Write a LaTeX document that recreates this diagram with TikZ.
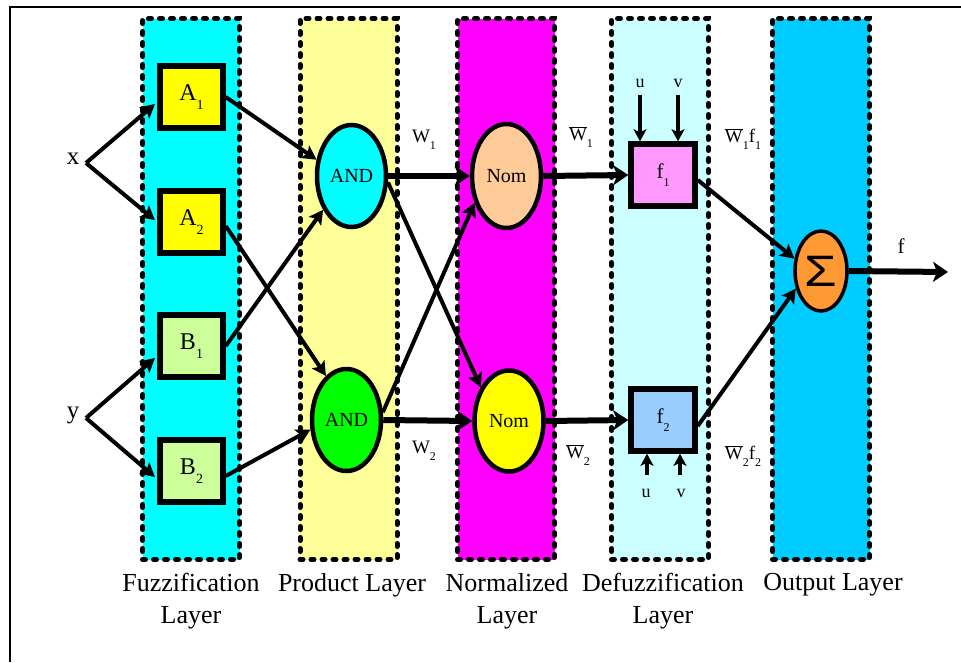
\documentclass[tikz,border=0pt]{standalone}
\usepackage{fontspec}
\setmainfont{Liberation Serif}
\newfontfamily\sigmafont{Liberation Sans}
\usetikzlibrary{shapes.geometric,arrows.meta}
\newcommand{\lsub}[1]{\raisebox{-0.38em}{\fontsize{14}{14}\selectfont #1}}
\newcommand{\wsub}[1]{\raisebox{-0.35em}{\fontsize{12}{12}\selectfont #1}}
\newcommand{\wbar}{$\overline{\hbox{W}}$}
\definecolor{cfuzz}{RGB}{0,255,255}
\definecolor{cprod}{RGB}{255,255,153}
\definecolor{cnorm}{RGB}{255,0,255}
\definecolor{cdefz}{RGB}{204,255,255}
\definecolor{cout}{RGB}{0,204,255}
\definecolor{cA}{RGB}{255,255,0}
\definecolor{cB}{RGB}{204,255,153}
\definecolor{cand1}{RGB}{0,255,255}
\definecolor{cand2}{RGB}{0,255,0}
\definecolor{cnom1}{RGB}{255,204,153}
\definecolor{cnom2}{RGB}{255,255,0}
\definecolor{cf1}{RGB}{255,153,255}
\definecolor{cf2}{RGB}{153,204,255}
\definecolor{csig}{RGB}{255,153,51}
\begin{document}
\begin{tikzpicture}[x=1pt,y=-1pt,
  layerbox/.style={draw=black, line width=5pt, line cap=round, dash pattern=on 3pt off 8pt, minimum width=97pt, minimum height=541pt, inner sep=0pt},
  mfbox/.style={draw=black, line width=5.5pt, minimum width=63pt, minimum height=62pt, inner sep=0pt, font=\fontsize{24}{24}\selectfont},
  opnode/.style={ellipse, draw=black, line width=4.5pt, minimum width=69pt, minimum height=102pt, inner sep=0pt, font=\fontsize{20}{20}\selectfont},
  fbox/.style={draw=black, line width=5.5pt, minimum width=64pt, minimum height=62pt, inner sep=0pt, font=\fontsize{21}{21}\selectfont},
  arr/.style={line width=4pt, -{Stealth[length=14pt,width=15pt,inset=3pt]}},
  harr/.style={line width=6pt, -{Stealth[length=15pt,width=20pt,inset=4pt]}},
  uvarr/.style={line width=4.5pt, -{Stealth[length=12pt,width=13pt,inset=3pt]}},
  title/.style={font=\fontsize{26}{32}\selectfont, align=center},
  wlab/.style={font=\fontsize{19}{19}\selectfont, inner sep=0pt},
  uvlab/.style={font=\fontsize{18}{18}\selectfont, inner sep=0pt}
]
\useasboundingbox (0,0) rectangle (961,662);
\draw[line width=1.5pt] (10,662) -- (10,7) -- (961,7);

% layers
\node[layerbox, fill=cfuzz] (Lfuzz) at (191,289) {};
\node[layerbox, fill=cprod] (Lprod) at (348.5,289) {};
\node[layerbox, fill=cnorm] (Lnorm) at (506,289) {};
\node[layerbox, fill=cdefz] (Ldefz) at (660,289) {};
\node[layerbox, fill=cout] (Lout) at (821,289) {};

\node[title] (Tfuzz) at (191,601) {Fuzzification\\Layer};
\node[title] (Tprod) at (352,585) {Product Layer};
\node[title] (Tnorm) at (507,601) {Normalized\\Layer};
\node[title] (Tdefz) at (663,601) {Defuzzification\\Layer};
\node[title] (Tout) at (833,585) {Output Layer};

% inputs
\node[font=\fontsize{25}{25}\selectfont, inner sep=0pt] (xl) at (73,159) {x};
\node[font=\fontsize{25}{25}\selectfont, inner sep=0pt] (yl) at (73,415) {y};
\coordinate (xp) at (86,163);
\coordinate (yp) at (86,418);

% membership nodes
\node[mfbox, fill=cA] (A1) at (191.5,97) {A\lsub{1}};
\node[mfbox, fill=cA] (A2) at (191.5,222) {A\lsub{2}};
\node[mfbox, fill=cB] (B1) at (191.5,346) {B\lsub{1}};
\node[mfbox, fill=cB] (B2) at (191.5,471) {B\lsub{2}};

% product nodes
\node[opnode, fill=cand1] (AND1) at (351.5,176) {AND};
\node[opnode, fill=cand2] (AND2) at (346.5,420) {AND};

% normalized nodes
\node[opnode, fill=cnom1, minimum height=104pt] (Nom1) at (506.5,176) {Nom};
\node[opnode, fill=cnom2, minimum height=101pt] (Nom2) at (509,421) {Nom};

% defuzz nodes
\node[fbox, fill=cf1] (F1) at (663,175) {f\wsub{1}};
\node[fbox, fill=cf2] (F2) at (663,420) {f\wsub{2}};

% output node
\node[ellipse, draw=black, line width=3.5pt, fill=csig, minimum width=52pt, minimum height=80pt, inner sep=0pt] (Sig) at (821,271) {\sigmafont\fontsize{44}{44}\selectfont\scalebox{1.2}[1]{Σ}};
\coordinate (fout) at (948,272);
\node[font=\fontsize{21}{21}\selectfont, inner sep=0pt] (fl) at (901,246) {f};

% connectors: inputs
\draw[arr, shorten >=3pt] (xp) -- ([yshift=-5pt]A1.west);
\draw[arr, shorten >=3pt] (xp) -- (A2.west);
\draw[arr, shorten >=3pt] (yp) -- ([yshift=-10pt]B1.west);
\draw[arr, shorten >=3pt] (yp) -- ([yshift=-8pt]B2.west);

% membership -> product
\draw[arr] (A1.east) -- (AND1.155);
\draw[arr] ([yshift=-4pt]A2.east) -- (AND2.115);
\draw[arr] (B1.east) -- (AND1.230);
\draw[arr] ([yshift=-5pt]B2.east) -- (AND2.195);

% product -> normalized
\draw[harr] (AND1.east) -- (Nom1.west);
\draw[harr] (AND2.east) -- (Nom2.west);
\draw[arr] (AND1.-10) -- (Nom2.130);
\draw[arr] (AND2.12) -- (Nom1.220);

% normalized -> defuzz
\draw[harr] (Nom1.east) -- (F1.west);
\draw[harr] (Nom2.east) -- (F2.west);

% u v inputs
\coordinate (u1) at (640,95);
\coordinate (v1) at (678,95);
\coordinate (u2) at (647,475);
\coordinate (v2) at (680,475);
\node[uvlab] (u1l) at (640,83) {u};
\node[uvlab] (v1l) at (678,83) {v};
\node[uvlab] (u2l) at (646,493) {u};
\node[uvlab] (v2l) at (681,493) {v};
\draw[uvarr] (u1) -- (u1 |- F1.north);
\draw[uvarr] (v1) -- (v1 |- F1.north);
\draw[uvarr] (u2) -- (u2 |- F2.south);
\draw[uvarr] (v2) -- (v2 |- F2.south);

% defuzz -> output
\draw[arr] ([yshift=-5pt]F1.east) -- (Sig.155);
\draw[arr] ([yshift=-6pt]F2.east) -- (Sig.215);
\draw[harr] (Sig.east) -- (fout);

% weight labels
\node[wlab] (w1) at (424,140) {W\wsub{1}};
\node[wlab] (w2) at (424,451) {W\wsub{2}};
\node[wlab] (wb1) at (581,137) {\wbar\wsub{1}};
\node[wlab] (wb2) at (578,455) {\wbar\wsub{2}};
\node[wlab] (wf1) at (743,139) {\wbar\wsub{1}f\wsub{1}};
\node[wlab] (wf2) at (743,456) {\wbar\wsub{2}f\wsub{2}};
\end{tikzpicture}
\end{document}
